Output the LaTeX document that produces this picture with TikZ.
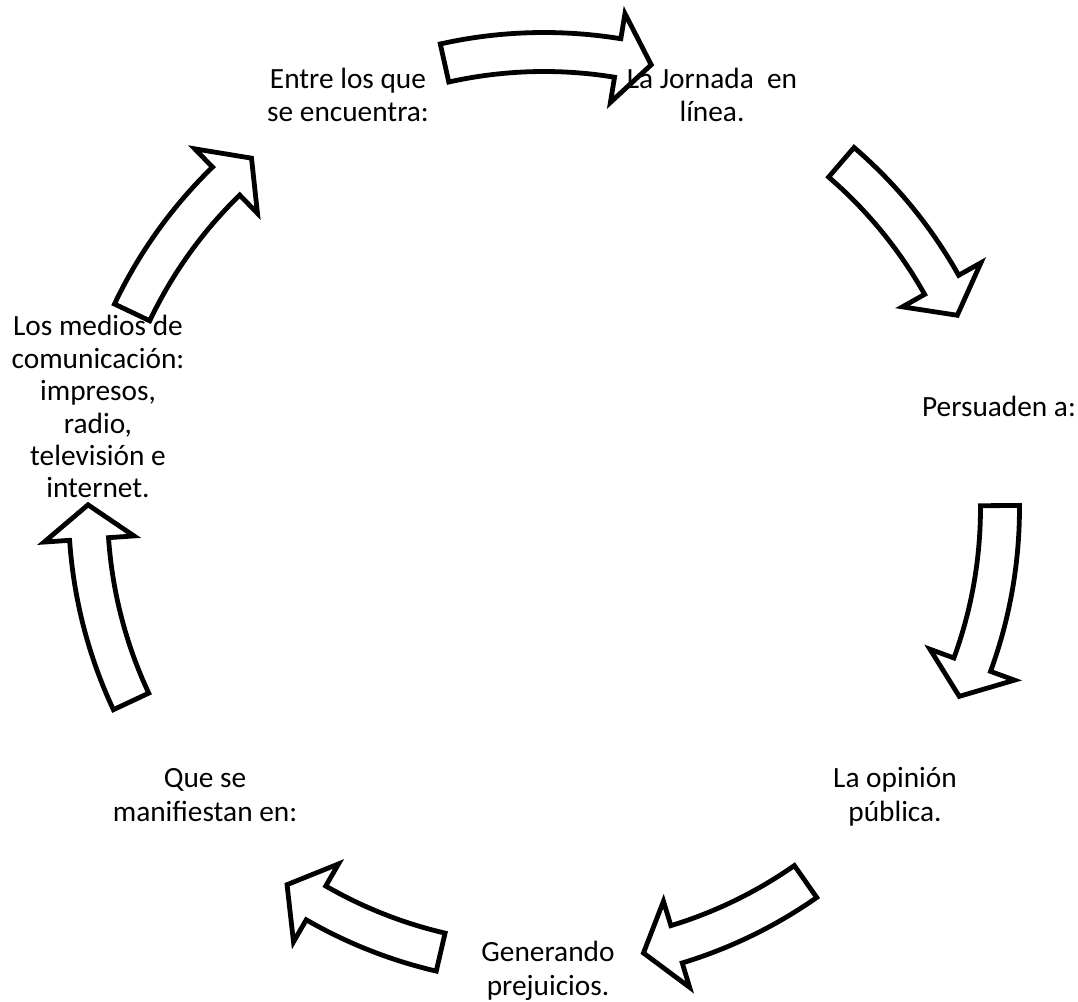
\documentclass[tikz,border=0pt]{standalone}
\usepackage{fontspec}
\setmainfont{Carlito}
\newcommand\ls{\rule[-6pt]{0pt}{22pt}}
\newcommand\cyc[2]{% tail angle, tip angle (clockwise)
  \pgfmathsetmacro\hb{#2+4.3}%
  \draw[blockarrow] (#1:475.5) arc[start angle=#1, end angle=\hb, radius=356.625pt]
    -- (\hb:501) -- (#2:456) -- (\hb:411) -- (\hb:436.5)
    arc[start angle=\hb, end angle=#1, radius=327.375pt] -- cycle;}
\begin{document}
\begin{tikzpicture}[x=0.75pt,y=0.75pt,
  lbl/.style={align=center, inner sep=0pt, font=\fontsize{22pt}{25pt}\selectfont},
  blockarrow/.style={draw=black, fill=white, line width=3.6pt, line join=miter}]
\useasboundingbox (0,0) rectangle (1078,1002);
\begin{scope}[shift={(544,494)}]
  \cyc{102.6}{76.4}
  \cyc{49.3}{25.0}
  \cyc{0.3}{-24.4}
  \cyc{-55.0}{-77.4}
  \cyc{-103.1}{-124.3}
  \cyc{-154.9}{-180.4}
  \cyc{154.6}{129.9}
\end{scope}
\node[lbl] (entre) at (348,1002-98.3) {\ls Entre los que\\\ls se encuentra:};
\node[lbl] (jornada) at (712,1002-98.3) {\ls La Jornada~ en\\\ls línea.};
\node[lbl] (persuaden) at (999,1002-410.3) {\ls Persuaden a:};
\node[lbl] (opinion) at (895,1002-798) {\ls La opinión\\\ls pública.};
\node[lbl] (generando) at (548,1002-972) {\ls Generando\\\ls prejuicios.};
\node[lbl] (que) at (205,1002-798) {\ls Que se\\\ls manifiestan en:};
\node[lbl, font=\fontsize{22pt}{24.3pt}\selectfont] (medios) at (98,1002-410.3) {\ls Los medios de\\\ls comunicación:\\\ls impresos,\\\ls radio,\\\ls televisión e\\\ls internet.};
\end{tikzpicture}
\end{document}
